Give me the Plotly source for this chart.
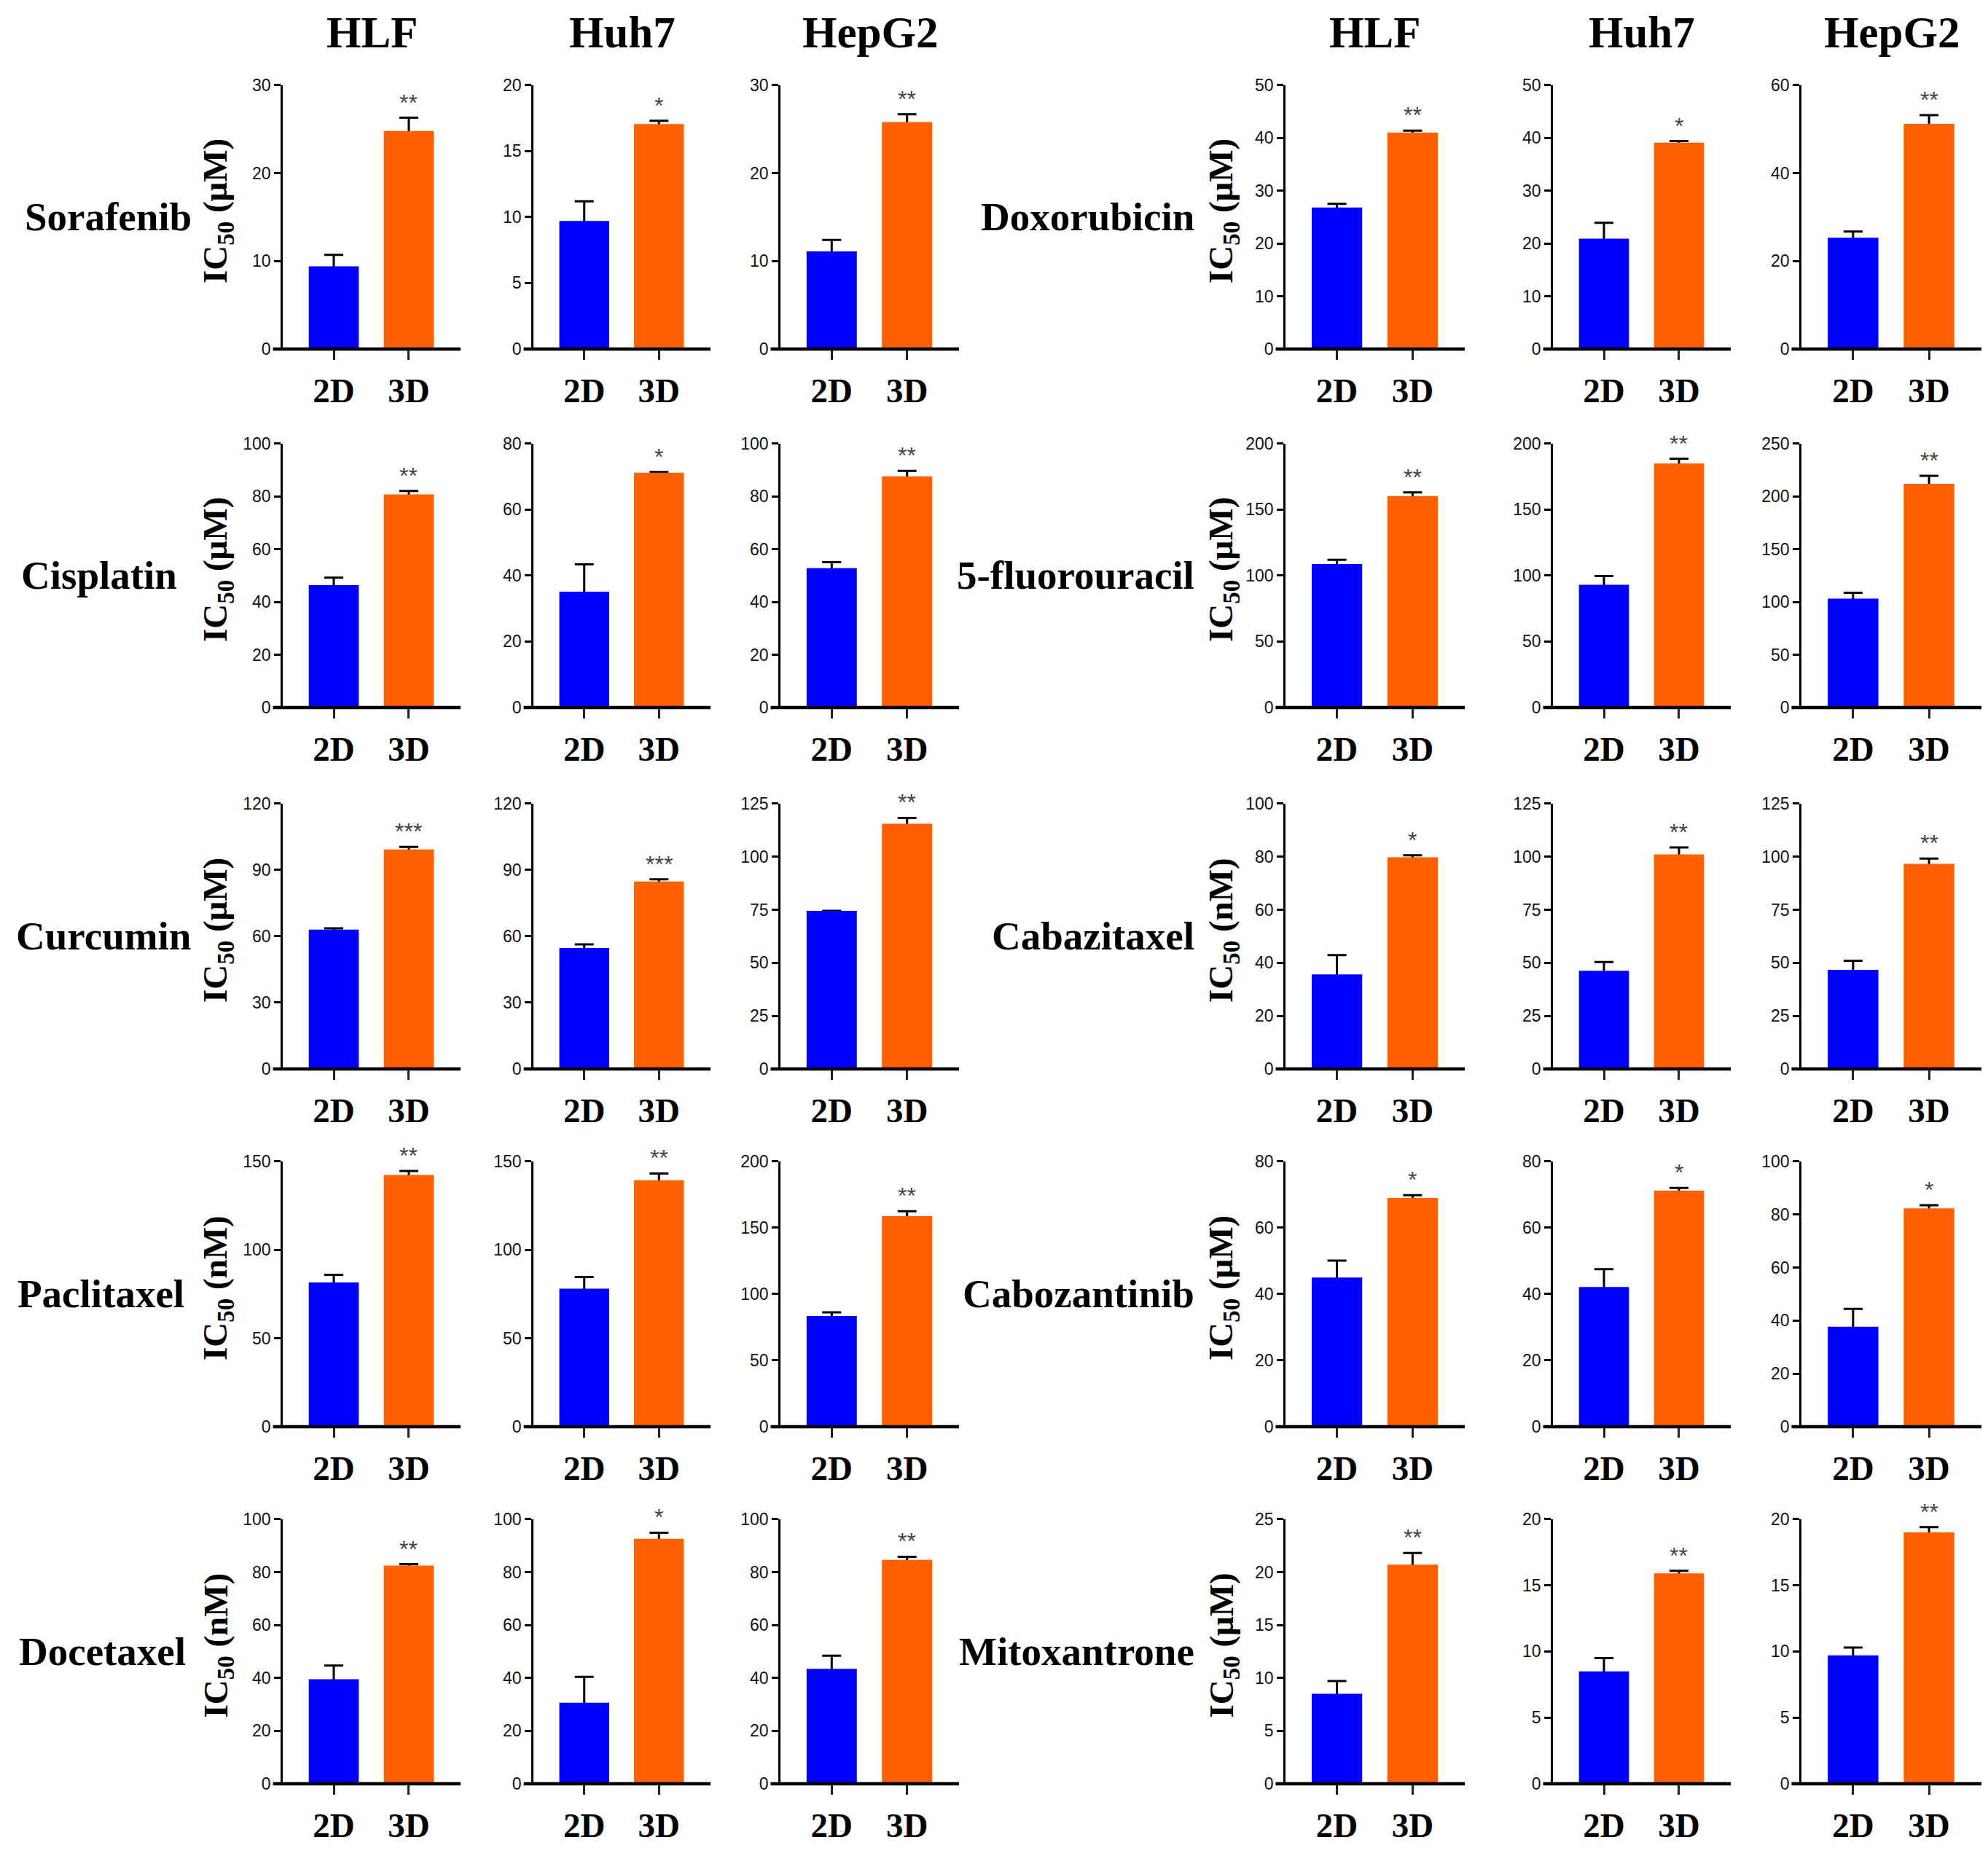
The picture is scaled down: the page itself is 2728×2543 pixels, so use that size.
import plotly.graph_objects as go

# drug order: left block (rows 1-5), then right block (rows 1-5)
drugs = ["Sorafenib", "Cisplatin", "Curcumin", "Paclitaxel", "Docetaxel",
         "Doxorubicin", "5-fluorouracil", "Cabazitaxel", "Cabozantinib", "Mitoxantrone"]
units = ["μM", "μM", "μM", "nM", "nM", "μM", "μM", "nM", "μM", "μM"]
cell_lines = ["HLF", "Huh7", "HepG2"]
conditions = ["2D", "3D"]

# IC50 per drug, columns HLF / Huh7 / HepG2
ic50_2d = [
    [9.4, 9.7, 11.1],
    [46.4, 35.1, 52.8],
    [63.0, 54.7, 74.5],
    [81.6, 78.1, 83.5],
    [39.5, 30.6, 43.4],
    [26.8, 20.9, 25.3],
    [108.8, 93.0, 103.2],
    [35.6, 46.2, 46.7],
    [45.0, 42.1, 37.7],
    [8.5, 8.5, 9.7],
]
sem_2d = [
    [1.3, 1.5, 1.3],
    [2.8, 8.3, 2.3],
    [0.6, 1.6, 0.0],
    [4.3, 6.5, 2.7],
    [5.2, 9.8, 5.0],
    [0.7, 3.0, 1.4],
    [3.2, 6.6, 5.5],
    [7.3, 4.2, 4.3],
    [5.1, 5.4, 6.7],
    [1.2, 1.0, 0.6],
]
ic50_3d = [
    [24.8, 17.05, 25.8],
    [80.8, 71.2, 87.6],
    [99.3, 84.8, 115.5],
    [142.3, 139.3, 158.7],
    [82.5, 92.6, 84.6],
    [41.0, 39.1, 51.2],
    [160.3, 185.0, 211.9],
    [79.8, 101.1, 96.6],
    [69.0, 71.2, 82.3],
    [20.7, 15.9, 19.0],
]
sem_3d = [
    [1.5, 0.25, 0.9],
    [1.3, 0.2, 2.1],
    [1.1, 1.0, 2.8],
    [2.3, 3.9, 3.7],
    [0.5, 2.3, 1.2],
    [0.4, 0.3, 2.0],
    [2.7, 3.6, 7.6],
    [0.7, 3.3, 2.5],
    [0.8, 0.8, 1.2],
    [1.1, 0.2, 0.4],
]
stars = [
    ["**", "*", "**"],
    ["**", "*", "**"],
    ["***", "***", "**"],
    ["**", "**", "**"],
    ["**", "*", "**"],
    ["**", "*", "**"],
    ["**", "**", "**"],
    ["*", "**", "**"],
    ["*", "*", "*"],
    ["**", "**", "**"],
]
y_max = [[30, 20, 30], [100, 80, 100], [120, 120, 125], [150, 150, 200], [100, 100, 100],
         [50, 50, 60], [200, 200, 250], [100, 125, 125], [80, 80, 100], [25, 20, 20]]
y_dtick = [[10, 5, 10], [20, 20, 20], [30, 30, 25], [50, 50, 50], [20, 20, 20],
           [10, 10, 20], [50, 50, 50], [20, 25, 25], [20, 20, 20], [5, 5, 5]]

# window size; the page body keeps its default 8px margin, so the figure is
# made 16px smaller to avoid scrollbars
W, H = 2728, 2543
PAD = 8
FW, FH = W - 2 * PAD, H - 2 * PAD

BLUE = "#0000FF"
ORANGE = "#FF6000"
SERIF = "Liberation Serif"
SANS = "Liberation Sans"

# pixel geometry of the panels, as measured on the target picture
col_x0 = [388, 732, 1071, 1764, 2131, 2472]
col_x1 = [632, 975, 1316, 2010, 2375, 2719]
row_top = [115, 607, 1101, 1592, 2083]
row_zero = [477, 969, 1465, 1956, 2446]
label_cx = [148, 136, 142, 138, 140]   # left block drug names (centre)
label_rx = 1641                        # right block drug names (right edge)

# vertical calibration of the capture (measured on the previous render)
CAL_S, CAL_B = 0.9897, 11.2


def px(x):
    return min(max((x - PAD) / FW, 0.0), 1.0)


def py(y):
    y = (y - CAL_B) / CAL_S
    return min(max(1 - (y - PAD) / FH, 0.0), 1.0)


fig = go.Figure()
layout = dict(
    width=FW, height=FH, autosize=False,
    margin=dict(l=0, r=0, t=0, b=0),
    paper_bgcolor="white", plot_bgcolor="white",
    showlegend=False, barmode="overlay",
)
annotations = []
shapes = []

for i, drug in enumerate(drugs):
    group, row = divmod(i, 5)
    for j, cell in enumerate(cell_lines):
        col = group * 3 + j
        k = i * 3 + j + 1
        sfx = "" if k == 1 else str(k)
        xa, ya = f"x{sfx}", f"y{sfx}"
        vals = [ic50_2d[i][j], ic50_3d[i][j]]
        errs = [sem_2d[i][j], sem_3d[i][j]]

        # error bars first, so the visible bars hide their lower half
        fig.add_trace(go.Bar(
            x=[0, 1], y=vals, width=0.667, xaxis=xa, yaxis=ya,
            marker=dict(color="rgba(0,0,0,0)", line=dict(width=0)),
            error_y=dict(type="data", array=errs, symmetric=True,
                         color="black", thickness=3, width=13),
            hoverinfo="skip",
        ))
        fig.add_trace(go.Bar(
            x=[0, 1], y=vals, width=0.667, xaxis=xa, yaxis=ya,
            marker=dict(color=[BLUE, ORANGE], line=dict(width=0)),
            customdata=conditions,
        ))

        layout[f"xaxis{sfx}"] = dict(
            domain=[px(col_x0[col]), px(col_x1[col])], anchor=ya,
            range=[-0.68, 1.69], tickmode="array", tickvals=[0, 1], ticktext=conditions,
            ticks="outside", ticklen=14, tickwidth=2.5, tickcolor="#222",
            ticklabelstandoff=2,
            tickfont=dict(family=SERIF, size=47, color="black", weight="bold"),
            showline=False, showgrid=False, zeroline=False, fixedrange=True,
        )
        layout[f"yaxis{sfx}"] = dict(
            domain=[py(row_zero[row]), py(row_top[row])], anchor=xa,
            range=[0, y_max[i][j]], tickmode="linear", tick0=0, dtick=y_dtick[i][j],
            ticks="outside", ticklen=9, tickwidth=2.5, tickcolor="black",
            tickfont=dict(family=SANS, size=23, color="#111"),
            showline=True, linewidth=2.5, linecolor="black",
            showgrid=False, zeroline=False, fixedrange=True,
        )
        # thick baseline, starting a little left of the y axis
        shapes.append(dict(
            type="line", xref=f"{xa} domain", yref=f"{ya} domain",
            x0=-0.055, x1=1.0, y0=0, y1=0,
            line=dict(color="black", width=4.5),
        ))
        annotations.append(dict(
            x=1, y=vals[1] + errs[1], xref=xa, yref=ya, text=stars[i][j],
            showarrow=False, yanchor="bottom", yshift=1,
            font=dict(family=SANS, size=32, color="#444"),
        ))

    # drug name and y title
    yc = py((row_top[row] + row_zero[row]) / 2)
    if group == 0:
        annotations.append(dict(
            x=px(label_cx[row]), y=yc, xref="paper", yref="paper", text=drug,
            showarrow=False, xanchor="center", yanchor="middle",
            font=dict(family=SERIF, size=55, color="black", weight="bold"),
        ))
        title_x = 299
    else:
        annotations.append(dict(
            x=px(label_rx), y=yc, xref="paper", yref="paper", text=drug,
            showarrow=False, xanchor="right", yanchor="middle",
            font=dict(family=SERIF, size=55, color="black", weight="bold"),
        ))
        title_x = 1679
    annotations.append(dict(
        x=px(title_x), y=yc + 8 / FH, xref="paper", yref="paper",
        text=f"IC<sub>50</sub> ({units[i]})", textangle=-90,
        showarrow=False, xanchor="center", yanchor="middle",
        font=dict(family=SERIF, size=47, color="black", weight="bold"),
    ))

# cell line headers
for col in range(6):
    annotations.append(dict(
        x=px((col_x0[col] + col_x1[col]) / 2), y=py(43), xref="paper", yref="paper",
        text=cell_lines[col % 3], showarrow=False, xanchor="center", yanchor="middle",
        font=dict(family=SERIF, size=61, color="black", weight="bold"),
    ))

layout["annotations"] = annotations
layout["shapes"] = shapes
fig.update_layout(**layout)
fig.write_html("out.html")
